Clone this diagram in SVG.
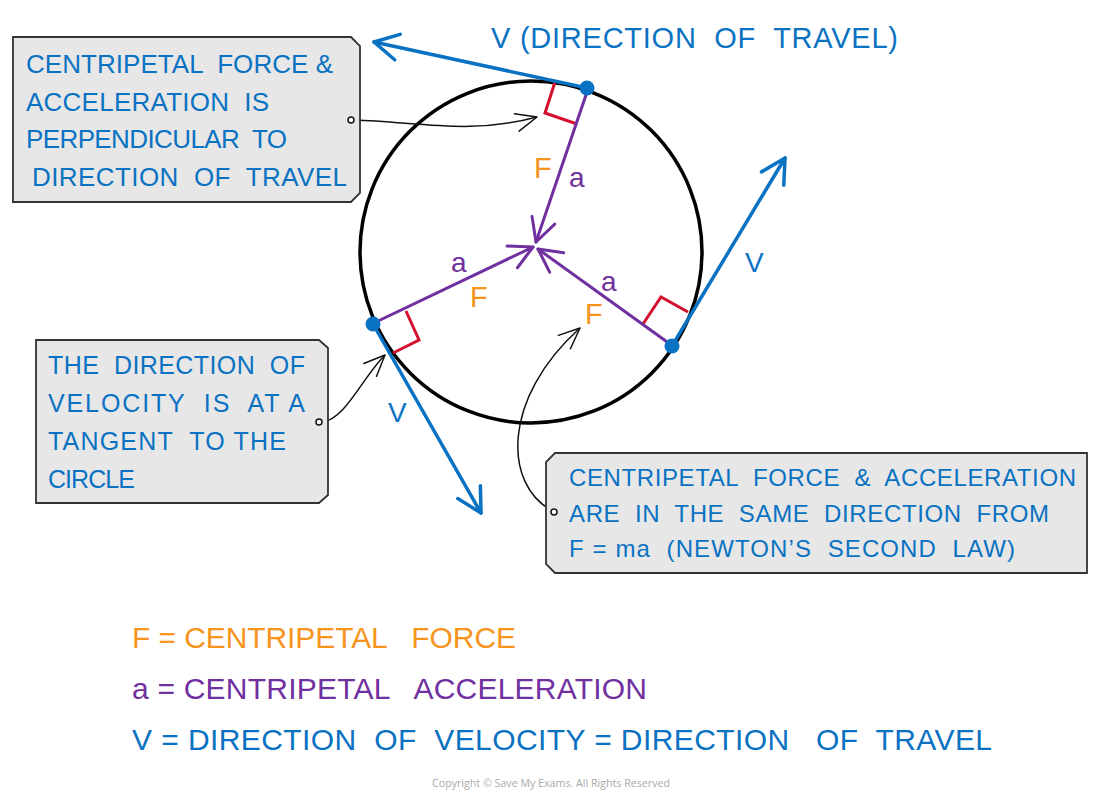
<svg xmlns="http://www.w3.org/2000/svg" width="1100" height="804" viewBox="0 0 1100 804">
  <style>
    .t { font-family: "Liberation Sans", Arial, sans-serif; white-space: pre; }
    .blue { fill: #0a72c2; }
    .orange { fill: #f7941d; }
    .purple { fill: #7030a0; }
    .box { fill: #e7e7e7; stroke: #333333; stroke-width: 1.8; }
    .vline { stroke: #0a72c2; stroke-width: 3.5; fill: none; stroke-linecap: round; }
    .aline { stroke: #7030a0; stroke-width: 3; fill: none; stroke-linecap: round; }
    .right { stroke: #d4102e; stroke-width: 3; fill: none; stroke-linejoin: miter; }
    .conn { stroke: #111111; stroke-width: 1.5; fill: none; }
    .cdot { fill: #ffffff; stroke: #111111; stroke-width: 1.5; }
  </style>
  <defs>
    <marker id="mV" markerUnits="userSpaceOnUse" viewBox="-30 -16 34 32" refX="0" refY="0" markerWidth="34" markerHeight="32" orient="auto">
      <path d="M-24,-13 L0,0 L-24,13" fill="none" stroke="#0a72c2" stroke-width="3.5" stroke-linecap="round" stroke-linejoin="round"/>
    </marker>
    <marker id="mA" markerUnits="userSpaceOnUse" viewBox="-30 -16 34 32" refX="0" refY="0" markerWidth="34" markerHeight="32" orient="auto">
      <path d="M-23,-12 L0,0 L-23,12" fill="none" stroke="#7030a0" stroke-width="3" stroke-linecap="round" stroke-linejoin="round"/>
    </marker>
    <marker id="mC" markerUnits="userSpaceOnUse" viewBox="-26 -12 30 24" refX="0" refY="0" markerWidth="30" markerHeight="24" orient="auto">
      <path d="M-21,-9 L0,0 L-21,9" fill="none" stroke="#111111" stroke-width="1.5" stroke-linecap="round" stroke-linejoin="round"/>
    </marker>
  </defs>

  <rect width="1100" height="804" fill="#ffffff"/>

  <g id="circle">
    <circle cx="531" cy="252" r="171" fill="none" stroke="#000000" stroke-width="3.5"/>
  </g>

  <g id="right-angles">
    <polyline class="right" points="555,82 545,113 577,124"/>
    <polyline class="right" points="406,311 419,340 393,353"/>
    <polyline class="right" points="643,324 661,297 688,312"/>
  </g>

  <g id="connectors">
    <line class="aline" x1="587" y1="92" x2="536" y2="242" marker-end="url(#mA)"/>
    <line class="aline" x1="376" y1="322" x2="533" y2="247" marker-end="url(#mA)"/>
    <line class="aline" x1="670" y1="344" x2="538" y2="249" marker-end="url(#mA)"/>
    <line class="vline" x1="587" y1="88" x2="374" y2="42" marker-end="url(#mV)"/>
    <line class="vline" x1="672" y1="346" x2="785" y2="158" marker-end="url(#mV)"/>
    <line class="vline" x1="373" y1="324" x2="481" y2="513" marker-end="url(#mV)"/>
    <path class="conn" d="M354,120 C420,122 470,135 537,117" marker-end="url(#mC)"/>
    <path class="conn" d="M322,422 C345,420 362,378 385,355" marker-end="url(#mC)"/>
    <path class="conn" d="M551,510 C505,485 500,400 580,328" marker-end="url(#mC)"/>
  </g>

  <g id="points">
    <circle cx="587" cy="88" r="7.5" fill="#0a72c2"/>
    <circle cx="373" cy="324" r="7.5" fill="#0a72c2"/>
    <circle cx="672" cy="346" r="7.5" fill="#0a72c2"/>
  </g>

  <g id="vector-labels">
    <text class="t orange" x="534" y="178" font-size="29">F</text>
    <text class="t purple" x="569" y="187" font-size="28">a</text>
    <text class="t purple" x="451" y="272" font-size="28">a</text>
    <text class="t orange" x="470" y="307" font-size="29">F</text>
    <text class="t purple" x="601" y="291" font-size="28">a</text>
    <text class="t orange" x="585" y="324" font-size="29">F</text>
    <text class="t blue" x="745" y="272" font-size="28">V</text>
    <text class="t blue" x="388" y="422" font-size="28">V</text>
  </g>

  <g id="title">
    <text class="t blue" x="491" y="48" font-size="29" textLength="407" lengthAdjust="spacing">V (DIRECTION  OF  TRAVEL)</text>
  </g>

  <g id="note-perpendicular">
    <path class="box" d="M13,37 H351 L360,46 V193 L351,202 H13 Z"/>
    <text class="t blue" x="26" y="73" font-size="26" textLength="307" lengthAdjust="spacing">CENTRIPETAL  FORCE &amp;</text>
    <text class="t blue" x="26" y="111" font-size="26" textLength="243" lengthAdjust="spacing">ACCELERATION  IS</text>
    <text class="t blue" x="26" y="148" font-size="26" textLength="261" lengthAdjust="spacing">PERPENDICULAR  TO</text>
    <text class="t blue" x="32" y="186" font-size="26" textLength="315" lengthAdjust="spacing">DIRECTION  OF  TRAVEL</text>
    <circle class="cdot" cx="351" cy="120" r="3"/>
  </g>

  <g id="note-tangent">
    <path class="box" d="M36,340 H319 L328,348 V495 L319,503 H36 Z"/>
    <text class="t blue" x="48" y="374" font-size="25" textLength="257" lengthAdjust="spacing">THE  DIRECTION  OF</text>
    <text class="t blue" x="48" y="412" font-size="25" textLength="257" lengthAdjust="spacing">VELOCITY  IS  AT A</text>
    <text class="t blue" x="48" y="450" font-size="25" textLength="238" lengthAdjust="spacing">TANGENT  TO THE</text>
    <text class="t blue" x="48" y="488" font-size="25" textLength="87" lengthAdjust="spacing">CIRCLE</text>
    <circle class="cdot" cx="319" cy="422" r="3"/>
  </g>

  <g id="note-same-direction">
    <path class="box" d="M555,453 H1087 V573 H555 L546,564 V462 Z"/>
    <text class="t blue" x="569" y="486" font-size="24" textLength="507" lengthAdjust="spacing">CENTRIPETAL  FORCE  &amp;  ACCELERATION</text>
    <text class="t blue" x="569" y="522" font-size="24" textLength="480" lengthAdjust="spacing">ARE  IN  THE  SAME  DIRECTION  FROM</text>
    <text class="t blue" x="569" y="557" font-size="24" textLength="446" lengthAdjust="spacing">F = ma  (NEWTON’S  SECOND  LAW)</text>
    <circle class="cdot" cx="554" cy="512" r="3"/>
  </g>

  <g id="legend">
    <text class="t orange" x="132" y="648" font-size="30" textLength="384" lengthAdjust="spacing">F = CENTRIPETAL   FORCE</text>
    <text class="t purple" x="132" y="699" font-size="30" textLength="515" lengthAdjust="spacing">a = CENTRIPETAL   ACCELERATION</text>
    <text class="t blue" x="132" y="750" font-size="30" textLength="860" lengthAdjust="spacing">V = DIRECTION  OF  VELOCITY = DIRECTION   OF  TRAVEL</text>
  </g>

  <g id="copyright">
    <text x="432" y="787" font-family="'Open Sans', 'Liberation Sans', sans-serif" font-size="11.5" fill="#aaaaaa" textLength="238" lengthAdjust="spacingAndGlyphs">Copyright © Save My Exams. All Rights Reserved</text>
  </g>
</svg>
